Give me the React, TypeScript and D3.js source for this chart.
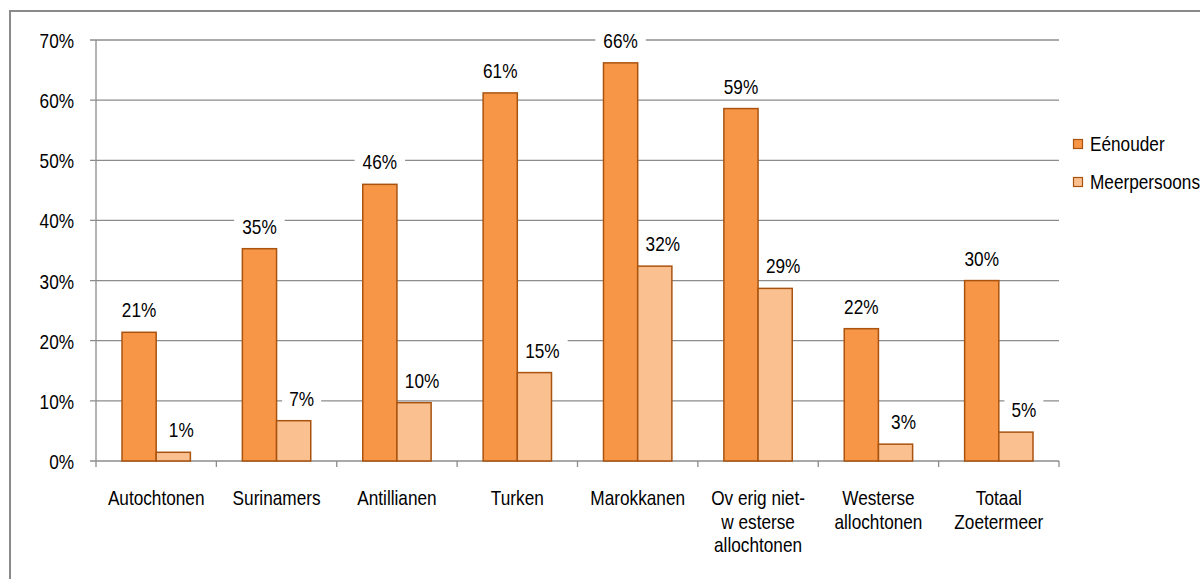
import React from "react";
import * as d3 from "d3";

const categories: string[][] = [
  ["Autochtonen"],
  ["Surinamers"],
  ["Antillianen"],
  ["Turken"],
  ["Marokkanen"],
  ["Ov erig niet-", "w esterse", "allochtonen"],
  ["Westerse", "allochtonen"],
  ["Totaal", "Zoetermeer"],
];
const seriesNames = ["Eénouder", "Meerpersoons"];
const eenouder = [21.4, 35.3, 46.0, 61.2, 66.2, 58.6, 22.0, 30.0];
const meerpersoons = [1.45, 6.7, 9.7, 14.7, 32.4, 28.7, 2.8, 4.8];
const yTicks = [0, 10, 20, 30, 40, 50, 60, 70];

const W = 1200;
const H = 579;
const FONT = "'Liberation Sans', Arial, sans-serif";
const FS = 21;
const SX = 0.82;
const fills = ["#F79646", "#FAC090"];
const strokeCol = "#A9530F";
const gridCol = "#8C8C8C";
const labelShift = [0, 8];

function T({ x, y, anchor, children }: { x: number; y: number; anchor: string; children: React.ReactNode }) {
  return (
    <g transform={`translate(${x},${y}) scale(${SX},1)`}>
      <text x={0} y={0} textAnchor={anchor as any} fontFamily={FONT} fontSize={FS} fill="#000">
        {children}
      </text>
    </g>
  );
}

export default function App() {
  const left = 96;
  const right = 1059;
  const top = 40;
  const bottom = 461;
  const idx = categories.map((_, i) => String(i));
  const x0 = d3.scaleBand<string>().domain(idx).range([left, right]).padding(0);
  const bw = x0.bandwidth();
  const x1 = d3.scaleBand<string>().domain(seriesNames).range([26, bw - 26]).padding(0);
  const y = d3.scaleLinear().domain([0, 70]).range([bottom, top]);
  const data = [eenouder, meerpersoons];

  const labels = data.flatMap((vals, s) =>
    vals.map((v, i) => {
      const cx = (x0(String(i)) as number) + (x1(seriesNames[s]) as number) + x1.bandwidth() / 2 + labelShift[s];
      const by = y(v) - 15;
      const label = `${Math.round(v)}%`;
      const tw = label.length * 11.5;
      return { key: `${s}-${i}`, cx, by, label, tw };
    })
  );

  return (
    <svg width={W} height={H} style={{ position: "absolute", left: 0, top: 0, background: "#fff" }}>
      <rect x={0} y={0} width={W} height={H} fill="#fff" />
      <rect x={10} y={11} width={1250} height={700} fill="none" stroke="#8A8A8A" strokeWidth={2} />
      {/* gridlines */}
      {yTicks.map((t) => (
        <g key={t}>
          <line x1={left - 6} x2={right} y1={y(t)} y2={y(t)} stroke={gridCol} strokeWidth={1.3} />
          <T x={74} y={y(t) + 8} anchor="end">{`${t}%`}</T>
        </g>
      ))}
      {/* y axis */}
      <line x1={left} x2={left} y1={top} y2={bottom} stroke={gridCol} strokeWidth={1.3} />
      {/* x axis ticks */}
      {idx.concat(["8"]).map((k, i) => {
        const xx = left + bw * i;
        return <line key={k} x1={xx} x2={xx} y1={bottom} y2={bottom + 6} stroke={gridCol} strokeWidth={1.3} />;
      })}
      {/* label backgrounds (behind bars) */}
      {labels.map((l) => (
        <rect key={`bg-${l.key}`} x={l.cx - l.tw / 2 - 8} y={l.by - 19} width={l.tw + 16} height={24} fill="#fff" />
      ))}
      {/* bars */}
      {data.map((vals, s) =>
        vals.map((v, i) => {
          const bx = (x0(String(i)) as number) + (x1(seriesNames[s]) as number);
          return (
            <rect
              key={`${s}-${i}`}
              x={bx}
              y={y(v)}
              width={x1.bandwidth()}
              height={bottom - y(v)}
              fill={fills[s]}
              stroke={strokeCol}
              strokeWidth={1.5}
            />
          );
        })
      )}
      {/* data labels */}
      {labels.map((l) => (
        <T key={`t-${l.key}`} x={l.cx} y={l.by} anchor="middle">{l.label}</T>
      ))}
      {/* category labels */}
      {categories.map((lines, i) => {
        const cx = (x0(String(i)) as number) + bw / 2;
        return (
          <g key={`c-${i}`}>
            {lines.map((ln, j) => (
              <T key={j} x={cx} y={505 + j * 23.5} anchor="middle">{ln}</T>
            ))}
          </g>
        );
      })}
      {/* legend */}
      {seriesNames.map((n, s) => (
        <g key={n}>
          <rect x={1073.5} y={139.5 + s * 38} width={9} height={9} fill={fills[s]} stroke={strokeCol} strokeWidth={1.2} />
          <T x={1090} y={151 + s * 38} anchor="start">{n}</T>
        </g>
      ))}
    </svg>
  );
}
